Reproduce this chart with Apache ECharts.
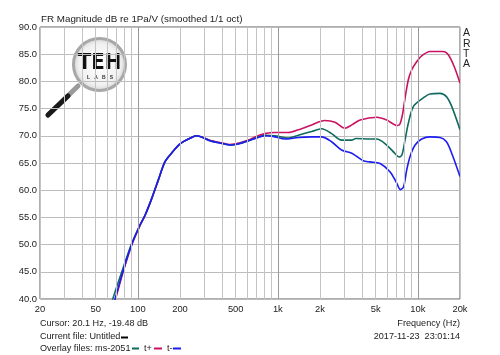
<!DOCTYPE html>
<html><head><meta charset="utf-8">
<script src="https://cdn.jsdelivr.net/npm/echarts@6/dist/echarts.min.js"></script>
<style>html,body{margin:0;padding:0;background:#fff}#c{width:500px;height:355px}</style>
</head><body><div id="c"></div>
<script>
// ---- data ----
const gridFreqs = [20,30,40,50,60,70,80,90,100,200,300,400,500,600,700,800,900,1000,2000,3000,4000,5000,6000,7000,8000,9000,10000,20000];
const decadeFreqs = [100,1000,10000];
const xTickValues = [20,50,100,200,500,1000,2000,5000,10000,20000];
const xTickLabels = ['20','50','100','200','500','1k','2k','5k','10k','20k'];
const yMin = 40, yMax = 90, yStep = 5;

const tPlus = [[60,35.2],[68.7,39.7],[78.7,45.1],[90.3,49.9],[103.6,53.5],[112.5,55.3],[125.6,58.4],[140,61.8],[156,65.2],[174,66.8],[200,68.5],[234,69.5],[263,70.0],[327,69.2],[400,68.7],[455,68.4],[536,68.7],[632,69.3],[687,69.8],[809,70.4],[953,70.6],[1188,70.6],[1400,71.1],[1746,72.0],[2160,72.8],[2559,72.5],[3017,71.4],[3373,72.0],[3870,72.9],[5084,73.4],[5989,72.9],[7110,71.9],[7455,72.2],[7790,74.1],[8096,76.9],[8550,80.3],[9030,82.1],[9800,83.6],[10650,84.7],[12210,85.5],[15170,85.5],[16510,84.9],[18200,82.7],[20000,79.7]];
const ms2051 = [[60,36.5],[68.7,41.3],[78.7,45.8],[90.3,50.2],[103.6,53.6],[112.5,55.4],[125.6,58.5],[140,61.9],[156,65.2],[174,66.8],[200,68.5],[234,69.5],[263,70.0],[327,69.1],[400,68.6],[455,68.3],[536,68.6],[632,69.2],[687,69.5],[809,70.1],[953,70.0],[1188,69.6],[1400,70.1],[1746,70.8],[2055,71.3],[2420,70.4],[2850,69.2],[3373,69.2],[3600,69.5],[4551,69.4],[5084,69.4],[5989,68.3],[6840,66.8],[7340,66.1],[7700,66.5],[8096,69.2],[8550,72.3],[9300,75.4],[10840,76.9],[12210,77.7],[14390,77.8],[16000,77.2],[17450,75.4],[20000,71.1]];
const tMinus = [[60,35.5],[68.7,40],[78.7,45.3],[90.3,50],[103.6,53.6],[112.5,55.4],[125.6,58.5],[140,61.9],[156,65.2],[174,66.8],[200,68.5],[234,69.5],[263,70.0],[327,69.1],[400,68.6],[455,68.3],[536,68.6],[632,69.2],[687,69.5],[809,70.0],[953,69.8],[1120,69.4],[1400,69.7],[1746,69.8],[2055,69.8],[2420,68.9],[2850,67.4],[3373,66.8],[4077,65.4],[4551,65.2],[5370,64.9],[6320,63.4],[7065,61.3],[7500,60.1],[7900,60.6],[8322,63.7],[8795,66.2],[9560,68.3],[10650,69.4],[12210,69.8],[14390,69.7],[16000,68.9],[17450,66.8],[20000,62.5]];

const colPlus = '#cc1163', colMs = '#0f6b5f', colMinus = '#1d1df2';
const FONT = '"Liberation Sans", Arial, sans-serif';
const fsT = 9.8, fsB = 9.1, fsA = 9.4;

const chart = echarts.init(document.getElementById('c'), null, {renderer: 'canvas'});
function lbl(v){
  const i = xTickValues.findIndex(t => Math.abs(t - v) / t < 1e-6);
  return i >= 0 ? xTickLabels[i] : '';
}
const lineS = (name, data, color) => ({
  name, type: 'line', data, smooth: 0.3, symbol: 'none', z: 3,
  lineStyle: {color, width: 1.6}, itemStyle: {color}, animation: false
});
chart.setOption({
  animation: false,
  grid: {left: 40, right: 40, top: 27, bottom: 56, show: true, borderColor: '#5f5f5f', borderWidth: 1, backgroundColor: 'transparent'},
  xAxis: {
    type: 'log', logBase: 10, min: 20, max: 20000,
    axisLine: {show: false}, axisTick: {show: false}, splitLine: {show: false},
    axisLabel: {customValues: xTickValues, formatter: lbl, color: '#222', fontSize: fsA, fontFamily: FONT, margin: 6, showMinLabel: true, showMaxLabel: true}
  },
  yAxis: {
    type: 'value', min: yMin, max: yMax, interval: yStep,
    axisLine: {show: false}, axisTick: {show: false},
    splitLine: {lineStyle: {color: '#bcbcbc', width: 1}},
    axisLabel: {formatter: v => v.toFixed(1), color: '#222', fontSize: fsA, fontFamily: FONT, margin: 3}
  },
  series: [
    {type: 'line', data: [], z: 1, silent: true, animation: false,
     markLine: {silent: true, symbol: 'none', animation: false, label: {show: false},
       data: gridFreqs.map(f => ({xAxis: f, lineStyle: {type: 'solid', width: 1, color: decadeFreqs.includes(f) ? '#999999' : '#c4c4c4'}}))}},
    lineS('t+', tPlus, colPlus),
    lineS('ms-2051', ms2051, colMs),
    lineS('t-', tMinus, colMinus)
  ],
  graphic: [
    {type: 'text', left: 41, top: 14, style: {text: 'FR Magnitude dB re 1Pa/V (smoothed 1/1 oct)', font: `${fsT}px ${FONT}`, fill: '#222'}},
    {type: 'text', left: 463, top: 28, style: {text: 'A\nR\nT\nA', font: `10.5px ${FONT}`, lineHeight: 10.3, fill: '#222'}},
    {type: 'text', left: 40, top: 319, style: {text: 'Cursor: 20.1 Hz, -19.48 dB', font: `${fsB}px ${FONT}`, fill: '#222'}},
    {type: 'text', left: 40, top: 332, style: {text: 'Current file: Untitled', font: `${fsB}px ${FONT}`, fill: '#222'}},
    {type: 'line', shape: {x1: 121, y1: 337.5, x2: 128, y2: 337.5}, style: {stroke: '#000', lineWidth: 2}},
    {type: 'text', left: 40, top: 343.5, style: {text: 'Overlay files: ms-2051', font: `${fsB}px ${FONT}`, fill: '#222'}},
    {type: 'line', shape: {x1: 132, y1: 348.5, x2: 139, y2: 348.5}, style: {stroke: colMs, lineWidth: 2}},
    {type: 'text', left: 144, top: 343.5, style: {text: 't+', font: `${fsB}px ${FONT}`, fill: '#222'}},
    {type: 'line', shape: {x1: 154, y1: 348.5, x2: 162, y2: 348.5}, style: {stroke: colPlus, lineWidth: 2}},
    {type: 'text', left: 167, top: 343.5, style: {text: 't-', font: `${fsB}px ${FONT}`, fill: '#222'}},
    {type: 'line', shape: {x1: 173, y1: 348.5, x2: 181, y2: 348.5}, style: {stroke: colMinus, lineWidth: 2}},
    {type: 'text', right: 40, top: 319, style: {text: 'Frequency (Hz)', font: `${fsB}px ${FONT}`, fill: '#222'}},
    {type: 'text', right: 40, top: 332, style: {text: '2017-11-23  23:01:14', font: `${fsB}px ${FONT}`, fill: '#222'}},
    // logo
    {type: 'group', z: 10, children: [
      {type: 'line', shape: {x1: 78, y1: 86, x2: 48, y2: 115}, style: {stroke: '#9a9a9a', lineWidth: 5, lineCap: 'round'}},
      {type: 'line', shape: {x1: 68, y1: 96, x2: 48, y2: 115}, style: {stroke: '#1a1a1a', lineWidth: 5, lineCap: 'round'}},
      {type: 'circle', shape: {cx: 99.5, cy: 64.5, r: 26}, style: {
        fill: new echarts.graphic.RadialGradient(0.5, 0.5, 0.5, [{offset: 0, color: '#ffffff'}, {offset: 0.75, color: '#f1f1f1'}, {offset: 1, color: '#cfcfcf'}]),
        stroke: '#a8a8a8', lineWidth: 3}},
      {type: 'text', x: 99.5, y: 63.5, style: {text: 'TEH', font: `bold 22px "DejaVu Sans Condensed", "Liberation Sans Narrow", sans-serif`, fill: '#111', align: 'center', verticalAlign: 'middle'}},
      {type: 'text', x: 100, y: 77.5, style: {text: 'L   A   B   S', font: `bold 5px ${FONT}`, fill: '#333', align: 'center', verticalAlign: 'middle'}}
    ]}
  ]
});
</script></body></html>
